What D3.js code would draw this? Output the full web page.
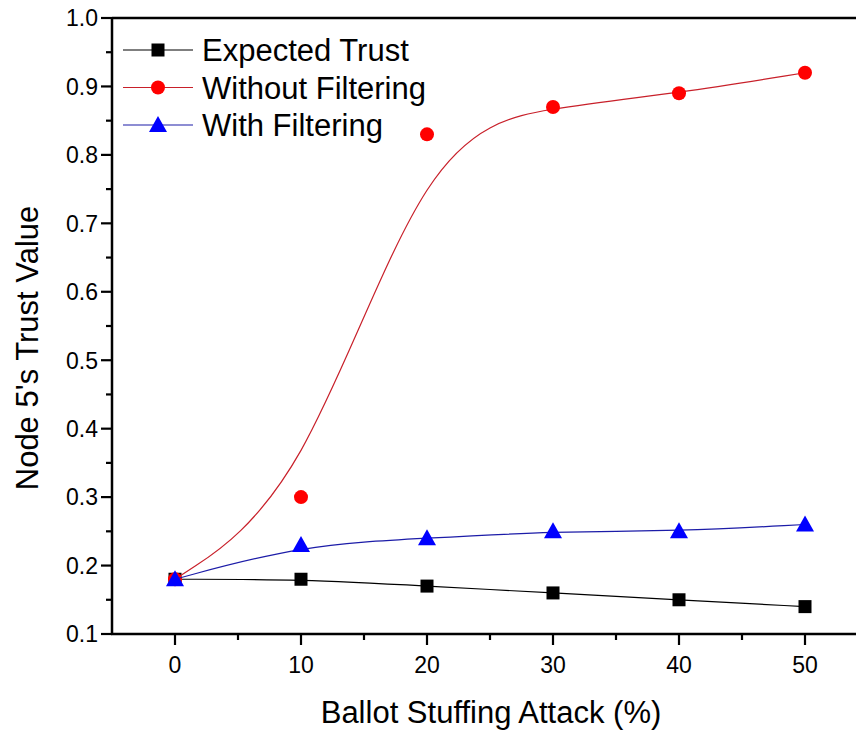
<!DOCTYPE html>
<html>
<head>
<meta charset="utf-8">
<script src="https://cdn.jsdelivr.net/npm/d3@7"></script>
<style>
  html, body { margin: 0; padding: 0; background: #fff; }
  svg { display: block; font-family: Arial, "Liberation Sans", sans-serif; }
</style>
</head>
<body>
<div id="chart"></div>
<script>
// data
const attackPct = [0, 10, 20, 30, 40, 50];
const expectedTrust = [0.18, 0.18, 0.17, 0.16, 0.15, 0.14];
const withoutFiltering = [0.18, 0.30, 0.83, 0.87, 0.89, 0.92];
const withFiltering = [0.18, 0.23, 0.24, 0.25, 0.25, 0.26];

const xTicks = [0, 10, 20, 30, 40, 50];
const yTicks = [0.1, 0.2, 0.3, 0.4, 0.5, 0.6, 0.7, 0.8, 0.9, 1.0];

const series = [
  { name: "Expected Trust", values: expectedTrust, symbol: "square", fill: "#000000", line: "#000000" },
  { name: "Without Filtering", values: withoutFiltering, symbol: "circle", fill: "#ff0000", line: "#c8202a" },
  { name: "With Filtering", values: withFiltering, symbol: "triangle", fill: "#0000ff", line: "#1c1ca8" }
];

const width = 856, height = 731;
const margin = { top: 18, left: 112, bottom: 97 };

const x = d3.scaleLinear().domain([-5, 55]).range([margin.left, 868]);
const y = d3.scaleLinear().domain([0.1, 1.0]).range([height - margin.bottom, margin.top]);

const svg = d3.select("#chart").append("svg")
  .attr("width", width)
  .attr("height", height);

// marker drawing
function drawMarker(g, type, cx, cy, fill) {
  if (type === "square") {
    g.append("rect").attr("x", cx - 6.5).attr("y", cy - 6.5)
      .attr("width", 13).attr("height", 13).attr("fill", fill);
  } else if (type === "circle") {
    g.append("circle").attr("cx", cx).attr("cy", cy).attr("r", 7).attr("fill", fill);
  } else {
    g.append("path")
      .attr("d", `M${cx},${cy - 9}L${cx + 9},${cy + 7}L${cx - 9},${cy + 7}Z`)
      .attr("fill", fill);
  }
}

// curves + markers
const line = d3.line()
  .x((d, i) => x(attackPct[i]))
  .y(d => y(d))
  .curve(d3.curveBasis);

series.forEach(s => {
  const g = svg.append("g");
  g.append("path")
    .attr("d", line(s.values))
    .attr("fill", "none")
    .attr("stroke", s.line)
    .attr("stroke-width", 1.2);
  s.values.forEach((v, i) => drawMarker(g, s.symbol, x(attackPct[i]), y(v), s.fill));
});

// axes
const xMinor = d3.range(-5, 56, 5).filter(v => !xTicks.includes(v) && v > -5);
const yMinor = d3.range(0.15, 1.0, 0.1).map(v => +v.toFixed(2));

const xAxis = svg.append("g").attr("transform", `translate(0,${y(0.1)})`);
xAxis.append("line").attr("x1", x(-5) - 1).attr("x2", width).attr("stroke", "#000").attr("stroke-width", 2.5);
xAxis.selectAll("line.major").data(xTicks).join("line").attr("class", "major")
  .attr("x1", d => x(d)).attr("x2", d => x(d)).attr("y1", 0).attr("y2", 11)
  .attr("stroke", "#000").attr("stroke-width", 2.2);
xAxis.selectAll("line.minor").data(xMinor).join("line").attr("class", "minor")
  .attr("x1", d => x(d)).attr("x2", d => x(d)).attr("y1", 0).attr("y2", 6)
  .attr("stroke", "#000").attr("stroke-width", 2.2);
xAxis.selectAll("text").data(xTicks).join("text")
  .attr("x", d => x(d)).attr("y", 39)
  .attr("text-anchor", "middle").attr("font-size", 23)
  .text(d => d);

const yAxis = svg.append("g").attr("transform", `translate(${x(-5)},0)`);
yAxis.append("line").attr("y1", y(1.0) - 1).attr("y2", y(0.1) + 1).attr("stroke", "#000").attr("stroke-width", 2.5);
yAxis.selectAll("line.major").data(yTicks).join("line").attr("class", "major")
  .attr("y1", d => y(d)).attr("y2", d => y(d)).attr("x1", 0).attr("x2", -11)
  .attr("stroke", "#000").attr("stroke-width", 2.2);
yAxis.selectAll("line.minor").data(yMinor).join("line").attr("class", "minor")
  .attr("y1", d => y(d)).attr("y2", d => y(d)).attr("x1", 0).attr("x2", -6)
  .attr("stroke", "#000").attr("stroke-width", 2.2);
yAxis.selectAll("text").data(yTicks).join("text")
  .attr("x", -14).attr("y", d => y(d)).attr("dy", "0.36em")
  .attr("text-anchor", "end").attr("font-size", 23)
  .text(d => d3.format(".1f")(d));

// top frame
svg.append("line").attr("x1", x(-5)).attr("x2", width).attr("y1", y(1.0)).attr("y2", y(1.0))
  .attr("stroke", "#000").attr("stroke-width", 2.5);

// axis titles
svg.append("text")
  .attr("x", 491).attr("y", 723)
  .attr("text-anchor", "middle").attr("font-size", 31)
  .text("Ballot Stuffing Attack (%)");

svg.append("text")
  .attr("transform", `translate(38,${(y(0.1) + y(1.0)) / 2 + 22}) rotate(-90)`)
  .attr("text-anchor", "middle").attr("font-size", 31)
  .text("Node 5's Trust Value");

// legend
const legend = svg.append("g");
series.forEach((s, i) => {
  const ly = 50 + i * 37.5;
  legend.append("line").attr("x1", 123).attr("x2", 193).attr("y1", ly).attr("y2", ly)
    .attr("stroke", s.line).attr("stroke-width", 1.2);
  drawMarker(legend, s.symbol, 158, ly, s.fill);
  legend.append("text").attr("x", 202).attr("y", ly).attr("dy", "0.36em")
    .attr("font-size", 31).text(s.name);
});
</script>
</body>
</html>
